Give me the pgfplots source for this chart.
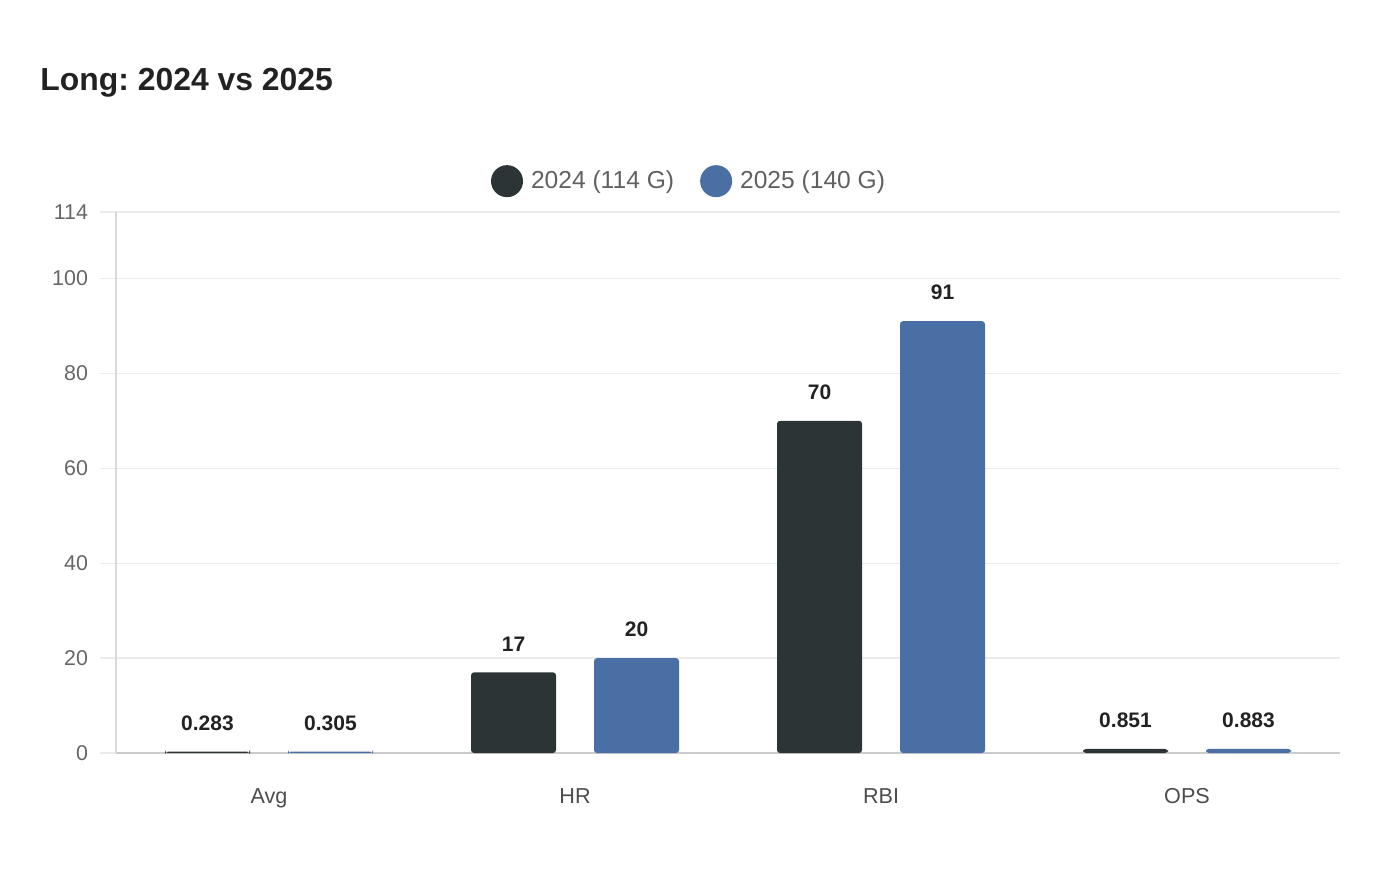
\documentclass[border=0pt]{standalone}
\usepackage{pgfplots}
\pgfplotsset{compat=1.18}
\usepackage{fontspec}
\setmainfont{Liberation Sans}
\frenchspacing
\definecolor{darkbar}{HTML}{2D3436}
\definecolor{bluebar}{HTML}{4A6FA5}
\definecolor{gridgray}{HTML}{EBEBEB}
\definecolor{ticktext}{HTML}{666666}
\definecolor{labeltext}{HTML}{222222}

\begin{document}
\begin{tikzpicture}[x=1pt,y=1pt]
  % page frame: 1400x880 px at 0.5pt per px
  \path (0,0) rectangle (700,440);
  \node[anchor=base west,font=\fontsize{15.95}{18}\selectfont\bfseries,text=labeltext,inner sep=0]
    at (20,394.5) {Long: 2024 vs 2025};

\begin{axis}[
  at={(58pt,63.5pt)}, anchor=south west,
  scale only axis,
  width=612pt, height=270.5pt,
  ybar=19pt, bar width=42.5pt,
  xmin=-0.5, xmax=3.5,
  ymin=0, ymax=114,
  xtick=data,
  xticklabels={Avg, HR, RBI, OPS},
  ytick={0,20,40,60,80,100,114},
  axis x line*=bottom,
  axis y line*=left,
  x axis line style={draw=black!20, line width=0.8pt, -},
  y axis line style={draw=black!15, line width=0.6pt, -},
  ymajorgrids,
  grid style={draw=gridgray, line width=0.6pt},
  major x tick style={draw=none},
  major y tick style={draw=gridgray, line width=0.6pt},
  tick align=outside,
  major tick length=8pt,
  yticklabel style={text=ticktext, font=\fontsize{10.7}{12}\selectfont, xshift=-2.5pt},
  xticklabel style={text=black!70, font=\fontsize{10.8}{13}\selectfont, anchor=base, yshift=-17pt},
  /pgf/number format/assume math mode=true,
  nodes near coords,
  point meta=explicit symbolic,
  every node near coord/.append style={font=\fontsize{10.5}{12}\selectfont\bfseries, text=labeltext, anchor=south, yshift=7pt},
  legend columns=2,
  legend style={draw=none, fill=none, at={(0.469,1.057)}, anchor=center,
    font=\fontsize{12.3}{14}\selectfont, text=black!62,
    /tikz/every even column/.append style={column sep=11pt}},
  legend image code/.code={\fill[#1,draw=none] (4pt,0pt) circle (8pt);},
]
\addplot[fill=darkbar, draw=none, rounded corners=1.5pt] coordinates {
  (0,0.283) [0.283]
  (1,17) [17]
  (2,70) [70]
  (3,0.851) [0.851]
};
\addlegendentry{\hspace{2pt}2024 (114 G)}
\addplot[fill=bluebar, draw=none, rounded corners=1.5pt] coordinates {
  (0,0.305) [0.305]
  (1,20) [20]
  (2,91) [91]
  (3,0.883) [0.883]
};
\addlegendentry{\hspace{2pt}2025 (140 G)}
\end{axis}
\end{tikzpicture}
\end{document}
